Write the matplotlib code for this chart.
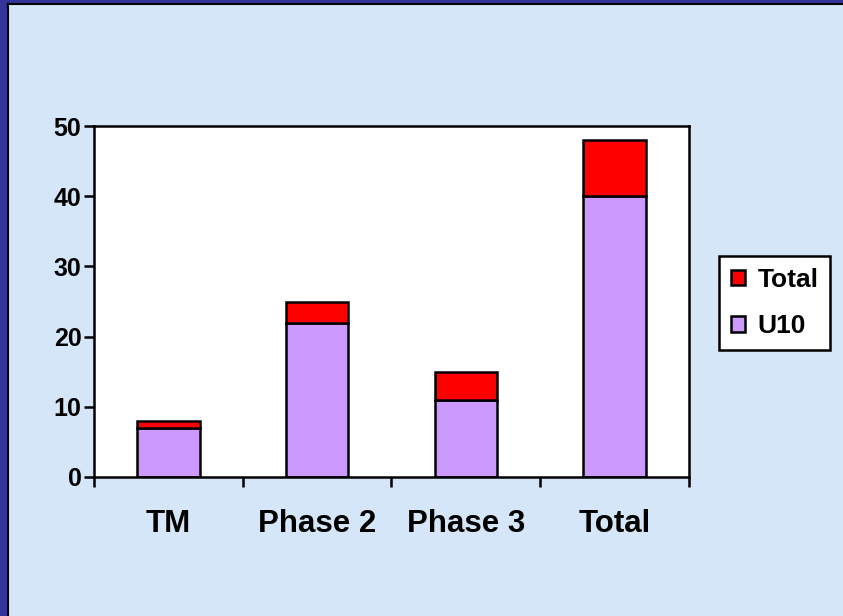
import matplotlib
matplotlib.use("Agg")
import matplotlib.pyplot as plt
from matplotlib.patches import Rectangle
import numpy as np

categories = ["TM", "Phase 2", "Phase 3", "Total"]
u10 = [7, 22, 11, 40]
total_extra = [1, 3, 4, 8]
y_ticks = [0, 10, 20, 30, 40, 50]

plt.rcParams['font.family'] = ['Liberation Sans', 'DejaVu Sans']
plt.rcParams['font.weight'] = 'bold'

W, H = 843, 616
fig = plt.figure(figsize=(W / 100, H / 100), dpi=100)
fig.patch.set_facecolor('#333399')

# light blue interior with black inner edge (border only on left/top)
fig.add_artist(Rectangle((7 / W, 0), 1, 1 - 4 / H, transform=fig.transFigure,
                         facecolor='#D5E6F8', edgecolor='none', zorder=0))
fig.add_artist(plt.Line2D([7.5 / W, 7.5 / W], [0, 1 - 3.5 / H], transform=fig.transFigure,
                          color='black', lw=1.5, zorder=1))
fig.add_artist(plt.Line2D([7.5 / W, 1], [1 - 3.5 / H, 1 - 3.5 / H], transform=fig.transFigure,
                          color='black', lw=1.5, zorder=1))

ax = fig.add_axes([94 / W, 1 - 477 / H, (689 - 94) / W, (477 - 126) / H])
ax.set_facecolor('white')
x = np.arange(len(categories))
w = 0.42
b1 = ax.bar(x, u10, width=w, color='#CC99FF', edgecolor='black', linewidth=1.8, label='U10', zorder=2)
b2 = ax.bar(x, total_extra, bottom=u10, width=w, color='#FF0000', edgecolor='black', linewidth=1.8,
            label='Total', zorder=2)

ax.set_xlim(-0.5, len(categories) - 0.5)
ax.set_ylim(0, 50)
ax.set_yticks(y_ticks)
ax.set_yticklabels([str(v) for v in y_ticks], fontsize=18, fontweight='bold')
ax.set_xticks(x)
ax.set_xticklabels(categories, fontsize=22.5, fontweight='bold')
ax.set_xticks(np.arange(-0.5, len(categories)), minor=True)
ax.tick_params(axis='x', which='major', length=0, pad=23)
ax.tick_params(axis='x', which='minor', length=7, width=1.8, direction='out')
ax.tick_params(axis='y', which='major', length=7, width=1.8, direction='out', pad=2)
for s in ax.spines.values():
    s.set_linewidth(1.8)
    s.set_color('black')

leg = fig.legend(handles=[b2, b1], labels=['Total', 'U10'], loc='upper left',
                 bbox_to_anchor=(719 / W, 1 - 256 / H),
                 prop={'weight': 'bold', 'size': 19},
                 handlelength=0.55, handleheight=0.55, handletextpad=0.45,
                 labelspacing=0.85, borderpad=0.45, borderaxespad=0,
                 fancybox=False, framealpha=1, edgecolor='black')
leg.get_frame().set_linewidth(1.8)

fig.savefig('out.png', dpi=100, facecolor=fig.get_facecolor())
